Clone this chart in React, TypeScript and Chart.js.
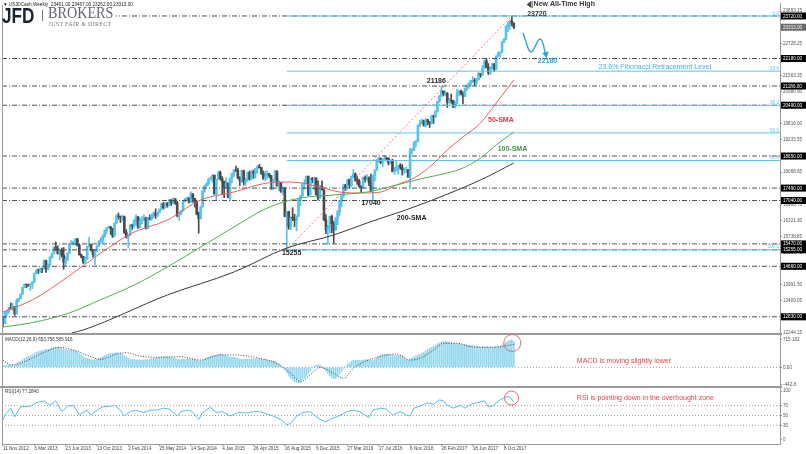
import React, { useEffect, useRef } from 'react';
import { Chart, registerables } from 'chart.js';

Chart.register(...registerables);

// ---------------- time axis (weekly bars, index = week number) ----------------
const xTickWeeks = [0, 16, 32, 48, 64, 80, 96, 112, 128, 144, 160, 176, 192, 208, 224, 240, 256];
const xTickLabels = ['11 Nov 2012', '3 Mar 2013', '23 Jun 2013', '13 Oct 2013', '2 Feb 2014', '25 May 2014', '14 Sep 2014', '4 Jan 2015', '26 Apr 2015', '16 Aug 2015', '6 Dec 2015', '27 Mar 2016', '17 Jul 2016', '6 Nov 2016', '26 Feb 2017', '18 Jun 2017', '8 Oct 2017'];
const weekMin = -0.5;
const weekMax = 397;

// ---------------- weekly candles ----------------
const firstOpen = 12815;
const closes = [
  12588, 13010, 13026, 13155, 13135, 13191, 12938, 13435, 13488, 13650,
  13896, 14010, 13993, 13982, 14001, 14090, 14397, 14515, 14512, 14579,
  14565, 14865, 14547, 14712, 14974, 15118, 15354, 15303, 15116, 15248,
  15070, 14800, 14910, 15136, 15464, 15543, 15559, 15659, 15425, 15081,
  15010, 14810, 14922, 15376, 15452, 15258, 15073, 15237, 15400, 15570,
  15615, 15762, 15962, 16065, 16086, 16020, 15755, 16221, 16479, 16469,
  16437, 16459, 15879, 15699, 15794, 16154, 16103, 16322, 16452, 16065,
  16302, 16323, 16412, 16027, 16409, 16361, 16512, 16583, 16491, 16606,
  16717, 16924, 16776, 16947, 16851, 17068, 16943, 17100, 16961, 16493,
  16554, 16663, 17001, 17098, 17138, 16988, 17280, 17113, 17009, 16544,
  16380, 16805, 17391, 17573, 17634, 17810, 17828, 17958, 17280, 17804,
  18053, 17833, 17737, 17511, 17672, 17165, 17824, 18019, 18140, 18133,
  17856, 17749, 18128, 17712, 17763, 18057, 17826, 18080, 18024, 18191,
  18272, 18232, 18011, 17849, 17898, 18015, 17947, 17730, 17760, 18086,
  17568, 17690, 17373, 17477, 16460, 16643, 16102, 16433, 16384, 16315,
  16472, 17084, 17216, 17647, 17664, 17910, 17245, 17824, 17798, 17848,
  17265, 17128, 17553, 17425, 16346, 15988, 16094, 16466, 16205, 15974,
  16392, 16640, 17007, 17213, 17602, 17516, 17793, 17577, 17898, 18004,
  17774, 17741, 17535, 17501, 17873, 17807, 17865, 17675, 17400, 17949,
  18147, 18517, 18571, 18432, 18544, 18577, 18553, 18396, 18492, 18085,
  18124, 18261, 18308, 18240, 18138, 18146, 18161, 17889, 18847, 18868,
  19152, 19171, 19757, 19843, 19934, 19763, 19964, 19886, 19827, 20094,
  20071, 20269, 20624, 20822, 21005, 20903, 20914, 20596, 20663, 20656,
  20453, 20547, 20940, 21006, 20896, 20804, 21080, 21206, 21271, 21384,
  21394, 21349, 21414, 21637, 21580, 21830, 22092, 21858, 21674, 21813,
  21987, 21797, 22268, 22349, 22405, 22773, 22871, 23329, 23434, 23539,
  23461, 23313,
];
const highs = [
  12830, 13020, 13060, 13170, 13330, 13310, 13210, 13480, 13500, 13660,
  13900, 14020, 14020, 14010, 14040, 14100, 14420, 14540, 14560, 14590,
  14590, 14890, 14880, 14740, 15010, 15130, 15370, 15540, 15400, 15260,
  15320, 15340, 15010, 15150, 15490, 15590, 15570, 15670, 15660, 15460,
  15100, 15020, 15000, 15380, 15710, 15460, 15270, 15260, 15410, 15590,
  15710, 15800, 15980, 16070, 16120, 16100, 16040, 16230, 16530, 16590,
  16480, 16510, 16480, 15990, 15800, 16170, 16190, 16350, 16520, 16460,
  16400, 16460, 16530, 16440, 16430, 16520, 16560, 16630, 16740, 16630,
  16740, 16950, 16970, 16960, 16970, 17080, 17070, 17140, 17110, 17010,
  16610, 16680, 17050, 17120, 17160, 17140, 17350, 17290, 17120, 17030,
  16620, 16830, 17400, 17590, 17690, 17850, 17900, 17990, 17960, 17810,
  18100, 18110, 17910, 17740, 17860, 17680, 17870, 18030, 18170, 18290,
  18210, 17900, 18140, 18140, 17840, 18080, 18110, 18140, 18140, 18210,
  18300, 18350, 18240, 18110, 18100, 18120, 18020, 17950, 17800, 18140,
  18120, 17750, 17700, 17530, 17520, 16650, 16650, 16450, 16780, 16550,
  16490, 17100, 17220, 17680, 17800, 17930, 17930, 17830, 17880, 17890,
  17870, 17750, 17600, 17750, 17440, 16530, 16140, 16480, 16510, 16280,
  16430, 16680, 17050, 17220, 17620, 17630, 17800, 17820, 17930, 18170,
  18040, 17930, 17810, 17580, 17890, 17930, 17980, 17900, 18000, 17960,
  18160, 18540, 18620, 18580, 18550, 18670, 18600, 18590, 18510, 18540,
  18240, 18450, 18320, 18380, 18340, 18210, 18250, 18170, 18930, 18930,
  19170, 19230, 19780, 19950, 19990, 19950, 20000, 19980, 19900, 20130,
  20130, 20300, 20640, 20850, 21186, 21010, 21000, 20950, 20740, 20890,
  20680, 20620, 21070, 21030, 21040, 20970, 21110, 21230, 21310, 21390,
  21530, 21460, 21460, 21680, 21640, 21930, 22100, 22180, 22000, 21880,
  22010, 21990, 22280, 22420, 22420, 22800, 22900, 23370, 23500, 23560,
  23720, 23467,
];
const lows = [
  12471, 12580, 12880, 12950, 13110, 13060, 12880, 12930, 13370, 13470,
  13640, 13880, 13880, 13930, 13790, 13850, 14080, 14390, 14400, 14420,
  14430, 14560, 14440, 14540, 14690, 14950, 15110, 15220, 15100, 14890,
  14990, 14550, 14660, 14870, 15130, 15440, 15420, 15420, 15390, 15060,
  14960, 14760, 14760, 14920, 15360, 15210, 14990, 14720, 15190, 15390,
  15500, 15520, 15700, 15850, 16030, 15810, 15700, 15740, 16200, 16360,
  16240, 16300, 15850, 15680, 15340, 15770, 15990, 16050, 16160, 16030,
  16060, 16200, 16320, 16000, 16020, 16340, 16320, 16420, 16390, 16460,
  16590, 16700, 16730, 16770, 16800, 16850, 16860, 16920, 16900, 16450,
  16330, 16540, 16660, 16990, 17050, 16950, 16970, 16970, 16800, 16520,
  15860, 16370, 16800, 17340, 17550, 17600, 17780, 17700, 17270, 17070,
  17800, 17780, 17260, 17140, 17500, 17130, 17040, 17680, 17900, 18080,
  17830, 17580, 17700, 17600, 17590, 17730, 17780, 17800, 17840, 17850,
  18030, 18210, 17990, 17800, 17750, 17810, 17880, 17440, 17430, 17740,
  17560, 17400, 17330, 17250, 16450, 15255, 16000, 15980, 16310, 16090,
  15940, 16460, 16860, 17180, 17440, 17630, 17210, 17240, 17680, 17420,
  17230, 17060, 17110, 17420, 16310, 15840, 15450, 15870, 15870, 15500,
  15960, 16160, 16500, 16820, 17150, 17400, 17450, 17480, 17530, 17860,
  17740, 17620, 17530, 17330, 17490, 17700, 17780, 17580, 17360, 17040,
  17740, 18120, 18420, 18370, 18260, 18510, 18470, 18330, 18370, 18080,
  17990, 18110, 17990, 18170, 17960, 18020, 18050, 17880, 17500, 18730,
  18840, 18980, 19160, 19710, 19830, 19730, 19700, 19780, 19680, 19810,
  19830, 20040, 20240, 20590, 20810, 20820, 20840, 20410, 20560, 20560,
  20400, 20380, 20540, 20830, 20860, 20550, 20800, 21020, 21100, 21170,
  21310, 21200, 21230, 21400, 21500, 21570, 21810, 21840, 21600, 21600,
  21800, 21710, 21780, 22250, 22230, 22400, 22750, 22860, 23150, 23230,
  23360, 23262,
];

// ---------------- moving averages [week, value] ----------------
const sma50 = [[0, 13004], [15, 13439], [33, 14271], [50, 15140], [66, 15864], [84, 16335], [101, 17059], [118, 17348], [135, 17674], [147, 17710], [162, 17529], [172, 17348], [184, 17312], [193, 17348], [201, 17600], [210, 17855], [218, 18253], [227, 18869], [235, 19339], [244, 19846], [252, 20570], [261, 21403]];
const sma100 = [[0, 12461], [15, 12620], [33, 12950], [50, 13450], [67, 13980], [84, 14633], [101, 15357], [118, 16081], [135, 16769], [152, 17131], [169, 17240], [186, 17348], [200, 17580], [215, 17850], [227, 18036], [235, 18217], [244, 18579], [252, 19050], [261, 19520]];
const sma200 = [[35, 12244], [41, 12353], [84, 13620], [118, 14452], [145, 15321], [169, 15792], [186, 16226], [210, 16805], [244, 17783], [261, 18398]];

// ---------------- horizontal levels ----------------
const keyLevels = [23720, 22180, 21186, 20490, 18650, 17490, 17040, 15470, 15255, 14660, 12830];
const currentPrice = 23313;
const fibLevels = [23720, 21722, 20486, 19488, 18489, 15255];
const fibNames = ['0.0', '23.6', '38.2', '50.0', '61.8', '100.0'];
const fibStartWeek = 145;
const trendLine = [[145, 15255], [260, 23720]];

// ---------------- price axis ----------------
const priceMin = 12208;
const priceMax = 24190;
const priceTicks = [12244.15, 12826.6, 13409.05, 13991.5, 14573.95, 15156.4, 15738.85, 16321.3, 16903.75, 17486.2, 18068.65, 18651.1, 19233.55, 19816.0, 20398.45, 20980.9, 21563.35, 22145.8, 22728.25, 23310.7, 23893.15];

// ---------------- MACD (12,26,9) ----------------
const macdMain = [
  50, 40, 45, 50, 60, 55, 50, 90, 120, 150,
  190, 230, 260, 280, 300, 320, 350, 380, 400, 415,
  425, 445, 450, 460, 475, 490, 505, 515, 510, 505,
  490, 470, 450, 440, 440, 440, 435, 425, 400, 360,
  320, 270, 240, 230, 215, 200, 185, 195, 210, 230,
  245, 270, 300, 325, 345, 360, 360, 365, 372, 370,
  360, 340, 300, 260, 230, 210, 200, 195, 190, 185,
  185, 185, 190, 195, 200, 210, 220, 230, 235, 245,
  255, 265, 270, 275, 270, 265, 255, 245, 230, 210,
  200, 200, 205, 210, 212, 205, 210, 205, 195, 175,
  160, 165, 185, 210, 240, 265, 285, 300, 300, 310,
  330, 340, 330, 310, 290, 275, 265, 260, 255, 245,
  230, 210, 205, 205, 205, 205, 205, 210, 210, 215,
  220, 225, 215, 200, 190, 185, 180, 165, 150, 145,
  110, 80, 40, -10, -60, -150, -230, -290, -330, -360,
  -385, -400, -380, -330, -280, -240, -170, -90, -10, 30,
  50, 60, 55, 20, -40, -100, -160, -220, -270, -290,
  -280, -240, -170, -100, -30, 30, 80, 110, 150, 175,
  180, 185, 180, 175, 185, 195, 200, 190, 180, 170,
  200, 240, 280, 310, 330, 340, 340, 335, 325, 310,
  300, 300, 305, 310, 300, 250, 200, 180, 210, 240,
  270, 290, 310, 330, 360, 390, 420, 450, 480, 510,
  540, 570, 600, 625, 650, 660, 665, 650, 640, 630,
  615, 605, 600, 600, 595, 585, 575, 570, 565, 560,
  555, 545, 540, 530, 525, 525, 530, 525, 520, 515,
  515, 520, 525, 535, 545, 570, 600, 630, 660, 690,
  705, 654,
];
const macdSignal = [[0, 186], [4, 60], [9, 110], [15, 237], [24, 441], [29, 510], [36, 441], [44, 288], [50, 204], [58, 339], [63, 372], [70, 288], [80, 255], [90, 270], [101, 186], [111, 314], [118, 314], [131, 230], [140, 102], [147, -153], [152, -367], [157, -196], [162, 0], [169, -153], [174, -280], [179, -25], [186, 168], [194, 288], [201, 339], [208, 186], [213, 230], [220, 441], [225, 612], [232, 612], [239, 525], [247, 510], [254, 525], [261, 586]];
const macdMin = -502;
const macdMax = 849;
const macdTicks = [715.182, 0, -442.8];
const macdTickLabels = ['715.182', '0.00', '-442.8'];

// ---------------- RSI (14) [week, value] ----------------
const rsi = [[0, 41], [1, 51], [4, 65], [6, 47], [9, 68], [14, 69], [17, 76], [21, 80], [24, 71], [27, 80], [30, 58], [33, 69], [36, 71], [39, 51], [43, 61], [45, 51], [48, 61], [51, 68], [55, 69], [57, 71], [60, 61], [62, 49], [65, 58], [68, 61], [72, 56], [75, 61], [79, 61], [82, 65], [85, 63], [89, 49], [91, 58], [95, 61], [97, 56], [100, 42], [102, 56], [106, 67], [109, 56], [112, 58], [116, 49], [120, 56], [125, 55], [128, 58], [131, 58], [135, 53], [138, 49], [142, 42], [145, 31], [147, 34], [150, 49], [153, 56], [157, 58], [159, 51], [162, 42], [165, 37], [168, 44], [171, 48], [176, 58], [179, 61], [182, 58], [187, 46], [189, 61], [193, 65], [196, 63], [199, 51], [203, 58], [206, 51], [208, 49], [210, 65], [213, 69], [217, 76], [220, 73], [223, 82], [225, 80], [227, 71], [230, 65], [234, 71], [236, 65], [239, 73], [244, 78], [246, 80], [248, 68], [250, 69], [254, 82], [257, 88], [259, 88], [261, 77.28]];
const rsiMin = -8.2;
const rsiMax = 108.2;
const rsiTicks = [100, 70, 50, 30, 0];
const rsiLevels = [70, 50, 30];

// ---------------- styles ----------------
const FONT = '"Liberation Sans", Arial, sans-serif';
const AX = 4.6;
const UP = '#55c3ec';
const DOWN = '#4b4b4b';
const FIB = '#5ec6ea';
const LEVEL = '#4d4d4d';
const RED = '#ef5d5d';
const GREEN = '#52ad52';
const BLACKLINE = '#3a3a3a';
const MACD_BAR = '#93d6f0';
const RSI_C = '#4fc0ea';
const DOT = '#a0a0a0';
const NOTE_RED = '#e8454c';
const NOTE_BLUE = '#27a5dc';
const FRAME = '#9a9a9a';

// annotations, anchored in data space
const notes = [
  { text: '15255', w: 147.5, v: 15129, axis: 'y', color: '#1e1e1e', font: 'bold 7px', align: 'center' },
  { text: '17040', w: 188, v: 16961, axis: 'y', color: '#1e1e1e', font: 'bold 7px', align: 'center' },
  { text: '200-SMA', w: 208.8, v: 16396, axis: 'y', color: '#1e1e1e', font: 'bold 7px', align: 'center' },
  { text: '21186', w: 221.4, v: 21377, axis: 'y', color: '#1e1e1e', font: 'bold 7px', align: 'center' },
  { text: '50-SMA', w: 254.4, v: 19955, axis: 'y', color: '#e53935', font: 'bold 7px', align: 'center' },
  { text: '100-SMA', w: 260.3, v: 18894, axis: 'y', color: '#3d9a3d', font: 'bold 7px', align: 'center' },
  { text: '22180', w: 278.2, v: 22073, axis: 'y', color: NOTE_BLUE, font: 'bold 7px', align: 'center' },
  { text: 'New All-Time High', w: 271.1, v: 24136, axis: 'y', color: '#333', font: 'bold 7px', align: 'left' },
  { text: '23720', w: 267.8, v: 23774, axis: 'y', color: '#333', font: 'bold 7px', align: 'left' },
  { text: '23.6% Fibonacci Retracement Level', w: 333.0, v: 21884, axis: 'y', color: '#3db5e5', font: '7px', align: 'center' },
  { text: 'MACD is moving slightly lower', w: 293.2, v: 161, axis: 'yMacd', color: NOTE_RED, font: '7px', align: 'left' },
  { text: 'RSI is pointing down in the overbought zone', w: 293.2, v: 85.1, axis: 'yRsi', color: NOTE_RED, font: '7px', align: 'left' },
];
const circles = [
  { w: 260.2, v: 620, axis: 'yMacd', r: 8.5 },
  { w: 259.8, v: 85.7, axis: 'yRsi', r: 7 },
];
const wave = [[265.7, 23104], [270.0, 22416], [274.4, 22887], [277.5, 22235]];
const athMarker = { w: 271.1, v: 24136 };

const paneClip = {
  id: 'paneClip',
  beforeDatasetDraw(chart: any, args: any) {
    const ys = chart.scales[args.meta.yAxisID];
    const ca = chart.chartArea;
    const ctx = chart.ctx;
    ctx.save();
    ctx.beginPath();
    ctx.rect(ca.left, ys.top, ca.right - ca.left, ys.bottom - ys.top);
    ctx.clip();
  },
  afterDatasetDraw(chart: any) {
    chart.ctx.restore();
  },
};

const decor = {
  id: 'decor',
  afterDraw(chart: any) {
    const { ctx, chartArea: ca, scales } = chart;
    const xs = scales.x;
    const yP = scales.y;
    const yM = scales.yMacd;
    const yR = scales.yRsi;
    const px = (w: number) => xs.getPixelForValue(w);
    ctx.save();

    // frame + pane separators
    ctx.strokeStyle = FRAME;
    ctx.lineWidth = 1;
    ctx.beginPath();
    ctx.moveTo(ca.left + 0.5, ca.top + 2);
    ctx.lineTo(ca.left + 0.5, ca.bottom + 0.5);
    ctx.lineTo(ca.right, ca.bottom + 0.5);
    ctx.stroke();
    ctx.lineWidth = 2;
    [yM.top, yR.top].forEach((t: number) => {
      ctx.beginPath();
      ctx.moveTo(0, t);
      ctx.lineTo(ca.right + 2, t);
      ctx.stroke();
    });

    // fibonacci level names
    ctx.font = `${AX}px ${FONT}`;
    ctx.fillStyle = FIB;
    ctx.textAlign = 'right';
    ctx.textBaseline = 'bottom';
    fibLevels.forEach((v, i) => ctx.fillText(fibNames[i], ca.right - 1, yP.getPixelForValue(v) - 0.3));

    // price boxes on the axis
    ctx.textAlign = 'left';
    ctx.textBaseline = 'middle';
    const box = (v: number, bg: string) => {
      const y = yP.getPixelForValue(v);
      ctx.fillStyle = bg;
      ctx.fillRect(yP.left + 1, y - 3.5, chart.width - yP.left - 1, 7);
      ctx.fillStyle = '#fff';
      ctx.fillText(v.toFixed(2), yP.left + 3, y + 0.3);
    };
    box(currentPrice, '#6a6a6a');
    keyLevels.forEach((v) => box(v, '#000'));

    // pane titles
    ctx.fillStyle = '#333';
    ctx.fillText('MACD(12,26,9) 653.756 585.916', ca.left + 3, yM.top + 6);
    ctx.fillText('RSI(14) 77.2840', ca.left + 3, yR.top + 5);

    // text notes
    notes.forEach((n) => {
      ctx.font = `${n.font} ${FONT}`;
      ctx.fillStyle = n.color;
      ctx.textAlign = n.align;
      ctx.textBaseline = 'middle';
      ctx.fillText(n.text, px(n.w), scales[n.axis].getPixelForValue(n.v));
    });

    // circles
    ctx.strokeStyle = '#ea6a6a';
    ctx.lineWidth = 1;
    circles.forEach((c) => {
      ctx.beginPath();
      ctx.arc(px(c.w), scales[c.axis].getPixelForValue(c.v), c.r, 0, Math.PI * 2);
      ctx.stroke();
    });

    // wave arrow
    const p = wave.map(([w, v]) => [px(w), yP.getPixelForValue(v)]);
    ctx.strokeStyle = NOTE_BLUE;
    ctx.fillStyle = NOTE_BLUE;
    ctx.lineWidth = 1.4;
    ctx.beginPath();
    ctx.moveTo(p[0][0], p[0][1]);
    ctx.bezierCurveTo(p[0][0] + 3, p[0][1] + 8, p[1][0] - 3, p[1][1] + 1, p[1][0], p[1][1]);
    ctx.bezierCurveTo(p[1][0] + 3, p[1][1] - 1, p[2][0] - 3, p[2][1], p[2][0], p[2][1]);
    ctx.bezierCurveTo(p[2][0] + 3, p[2][1], p[3][0] - 2, p[3][1] - 9, p[3][0] - 1, p[3][1] - 4);
    ctx.stroke();
    ctx.beginPath();
    ctx.moveTo(p[3][0] + 0.5, p[3][1] + 1);
    ctx.lineTo(p[3][0] - 4, p[3][1] - 4);
    ctx.lineTo(p[3][0] + 2.5, p[3][1] - 5.5);
    ctx.closePath();
    ctx.fill();

    // all-time-high marker
    const mx = px(athMarker.w) - 1;
    const my = yP.getPixelForValue(athMarker.v);
    ctx.fillStyle = '#444';
    ctx.beginPath();
    ctx.moveTo(mx - 6, my);
    ctx.lineTo(mx - 1.5, my - 3.5);
    ctx.lineTo(mx - 1.5, my + 3.5);
    ctx.closePath();
    ctx.fill();
    ctx.fillRect(mx - 1, my - 3.5, 1, 7);

    ctx.restore();
  },
};

function lineSet(points: number[][], color: string, yAxisID: string, extra: any = {}) {
  return {
    type: 'line',
    data: points.map(([x, y]) => ({ x, y })),
    borderColor: color,
    borderWidth: 1,
    pointRadius: 0,
    fill: false,
    yAxisID,
    xAxisID: 'x',
    ...extra,
  };
}

function yAxis(stackWeight: number, min: number, max: number, ticks: number[], label: (v: number) => string) {
  return {
    type: 'linear',
    position: 'right',
    stack: 'panes',
    stackWeight,
    min,
    max,
    offset: false,
    afterBuildTicks: (s: any) => {
      s.ticks = ticks.map((value) => ({ value }));
    },
    afterFit: (s: any) => {
      s.width = 26;
      s.paddingTop = 0;
      s.paddingBottom = 0;
    },
    ticks: { autoSkip: false, padding: 1, font: { size: AX, family: FONT }, color: '#555', callback: (v: any) => label(Number(v)) },
    grid: { drawOnChartArea: false, tickLength: 2, color: '#999', offset: false },
    border: { color: '#999' },
  };
}

export default function App() {
  const canvasRef = useRef<HTMLCanvasElement | null>(null);

  useEffect(() => {
    const el = canvasRef.current;
    if (!el) return;
    const opens = closes.map((c, i) => (i === 0 ? firstOpen : closes[i - 1]));
    const colors = closes.map((c, i) => (c >= opens[i] ? UP : DOWN));
    const full = (v: number) => [[weekMin, v], [weekMax, v]];

    const datasets: any[] = [
      ...keyLevels.map((v) => lineSet(full(v), LEVEL, 'y', { borderDash: [5, 2, 1, 2], order: 4 })),
      ...fibLevels.map((v) => lineSet([[fibStartWeek, v], [weekMax, v]], FIB, 'y', { order: 3 })),
      lineSet(trendLine, '#f27a7a', 'y', { borderDash: [2, 2], order: 2 }),
      lineSet(sma200, BLACKLINE, 'y', { cubicInterpolationMode: 'monotone', order: 1 }),
      lineSet(sma100, GREEN, 'y', { cubicInterpolationMode: 'monotone', order: 1 }),
      lineSet(sma50, RED, 'y', { cubicInterpolationMode: 'monotone', order: 1 }),
      {
        type: 'bar',
        data: closes.map((c, i) => ({ x: i, y: [lows[i], highs[i]] })),
        backgroundColor: colors,
        barThickness: 1,
        grouped: false,
        borderWidth: 0,
        yAxisID: 'y',
        xAxisID: 'x',
        order: 8,
      },
      {
        type: 'bar',
        data: closes.map((c, i) => ({ x: i, y: [opens[i], c] })),
        backgroundColor: colors,
        barThickness: 2,
        grouped: false,
        borderWidth: 0,
        yAxisID: 'y',
        xAxisID: 'x',
        order: 7,
      },
      // MACD
      lineSet(full(0), DOT, 'yMacd', { borderDash: [1, 2], order: 6 }),
      {
        type: 'bar',
        data: macdMain.map((v, i) => ({ x: i, y: v })),
        backgroundColor: MACD_BAR,
        barThickness: 1,
        grouped: false,
        borderWidth: 0,
        yAxisID: 'yMacd',
        xAxisID: 'x',
        order: 5,
      },
      lineSet(macdSignal, '#444', 'yMacd', { borderDash: [1, 1.6], cubicInterpolationMode: 'monotone', order: 0 }),
      // RSI
      ...rsiLevels.map((v) => lineSet(full(v), DOT, 'yRsi', { borderDash: [1, 2], order: 6 })),
      lineSet(rsi, RSI_C, 'yRsi', { order: 0 }),
    ];

    const chart = new Chart(el, {
      type: 'bar',
      data: { datasets },
      options: {
        responsive: false,
        animation: false,
        devicePixelRatio: 1,
        events: [],
        layout: { padding: { left: 2, top: 3, right: 0, bottom: 0 } },
        plugins: { legend: { display: false }, tooltip: { enabled: false } },
        scales: {
          x: {
            type: 'linear',
            position: 'bottom',
            min: weekMin,
            max: weekMax,
            offset: false,
            afterBuildTicks: (s: any) => {
              s.ticks = xTickWeeks.map((value) => ({ value }));
            },
            afterFit: (s: any) => {
              s.height = 10;
              s.paddingLeft = 0;
              s.paddingRight = 0;
            },
            ticks: {
              autoSkip: false,
              maxRotation: 0,
              minRotation: 0,
              align: 'start',
              padding: 0,
              font: { size: AX, family: FONT },
              color: '#444',
              callback: (v: any) => {
                const i = xTickWeeks.indexOf(Number(v));
                return i >= 0 ? xTickLabels[i] : '';
              },
            },
            grid: { drawOnChartArea: false, tickLength: 2, color: '#999', offset: false },
            border: { display: false },
          },
          y: yAxis(331, priceMin, priceMax, priceTicks, (v) => v.toFixed(2)),
          yMacd: yAxis(53, macdMin, macdMax, macdTicks, (v) => macdTickLabels[macdTicks.indexOf(v)] ?? ''),
          yRsi: yAxis(57, rsiMin, rsiMax, rsiTicks, (v) => String(v)),
        },
      } as any,
      plugins: [paneClip, decor],
    } as any);
    return () => chart.destroy();
  }, []);

  return (
    <div style={{ position: 'absolute', left: 0, top: 0, width: 806, height: 454, background: '#fff', overflow: 'hidden' }}>
      <canvas ref={canvasRef} width={806} height={454} style={{ position: 'absolute', left: 0, top: 0, width: 806, height: 454 }} />
      <div style={{ position: 'absolute', left: 3, top: 8, width: 113, height: 20, background: '#fff' }} />
      <div style={{ position: 'absolute', left: 3, top: 2.5, font: `4.7px ${FONT}`, color: '#222', whiteSpace: 'pre', lineHeight: 1 }}>
        {'▼ US30Cash,Weekly  23461.00 23467.00 23262.00 23313.00'}
      </div>
      <div style={{ position: 'absolute', left: 2, top: 4.5, font: `bold 22px ${FONT}`, lineHeight: 1, color: '#1b2230', transform: 'scaleX(0.78)', transformOrigin: 'left top', whiteSpace: 'pre' }}>JFD</div>
      <div style={{ position: 'absolute', left: 41.5, top: 9.5, width: 1.3, height: 11, background: '#7a7a7a' }} />
      <div style={{ position: 'absolute', left: 47.5, top: 5.4, font: `16.5px "Liberation Serif", "Times New Roman", serif`, lineHeight: 1, color: '#636775', transform: 'scaleX(0.86)', transformOrigin: 'left top', whiteSpace: 'pre' }}>BROKERS</div>
      <div style={{ position: 'absolute', left: 48.5, top: 21, font: `6px "Liberation Serif", "Times New Roman", serif`, lineHeight: 1, color: '#777', letterSpacing: '0.3px', whiteSpace: 'pre' }}>JUST FAIR &amp; DIRECT</div>
    </div>
  );
}
